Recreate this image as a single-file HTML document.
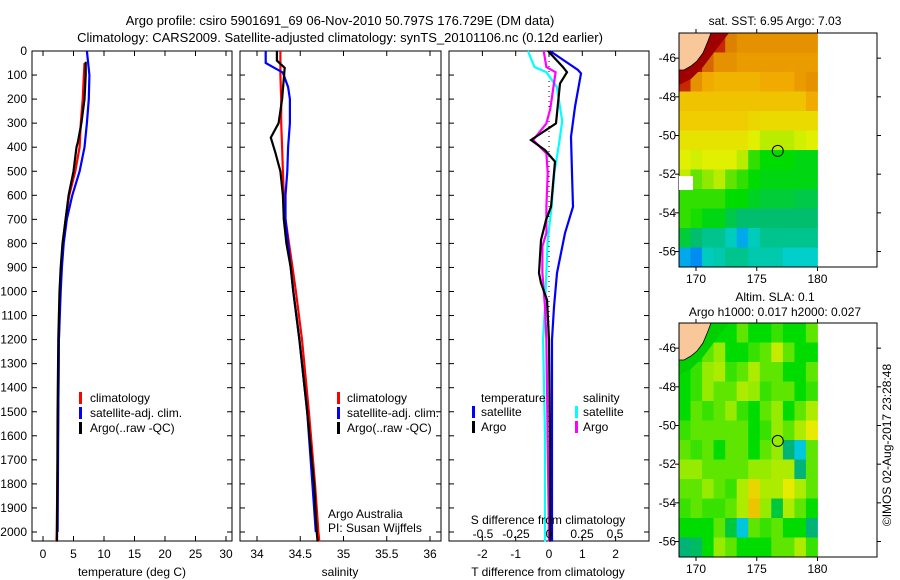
<!DOCTYPE html>
<html><head><meta charset="utf-8"><style>
html,body{margin:0;padding:0;background:#fff;}
svg{display:block;font-family:"Liberation Sans",sans-serif;font-size:12px;}
</style></head><body>
<svg id="fig" width="900" height="580" viewBox="0 0 900 580" xmlns="http://www.w3.org/2000/svg">
<text x="340" y="25" text-anchor="middle" font-size="13">Argo profile: csiro 5901691_69 06-Nov-2010 50.797S 176.729E (DM data)</text>
<text x="340" y="42" text-anchor="middle" font-size="13">Climatology: CARS2009. Satellite-adjusted climatology: synTS_20101106.nc (0.12d earlier)</text>
<g id="g"></g>
</svg>
<script>
// ---------- data ----------
const depthTicks=[0,100,200,300,400,500,600,700,800,900,1000,1100,1200,1300,1400,1500,1600,1700,1800,1900,2000];
const tempTicks=[0,5,10,15,20,25,30];
const salTicks=[34,34.5,35,35.5,36];
const salTickLabels=["34","34.5","35","35.5","36"];
const tdTicks=[-2,-1,0,1,2];
const sdTicks=[-0.5,-0.25,0,0.25,0.5];
const sdTickLabels=["-0.5","-0.25","0","0.25","0.5"];

const tClimDepth=[50,100,200,300,400,500,600,700,800,900,1000,1200,1500,1800,2000,2040];
const tClimVal=[6.8,6.7,6.5,6.2,6.0,5.3,4.3,3.7,3.3,3.0,2.8,2.6,2.5,2.35,2.25,2.2];
const tSatDepth=[0,100,200,300,400,500,600,700,800,900,1000,1200,1500,1800,2000];
const tSatVal=[7.2,7.6,7.5,7.2,6.8,6.0,4.8,3.9,3.4,3.1,2.9,2.6,2.5,2.45,2.4];
const tArgoDepth=[45,100,200,300,380,400,500,600,700,800,900,1000,1200,1500,1800,2040];
const tArgoVal=[7.0,7.0,6.8,6.3,5.7,5.5,5.0,4.2,3.7,3.2,2.9,2.7,2.5,2.4,2.35,2.3];

const sClimDepth=[0,100,200,300,400,500,600,700,800,900,1000,1200,1500,1800,2000,2040];
const sClimVal=[34.27,34.27,34.28,34.28,34.29,34.3,34.31,34.33,34.37,34.41,34.45,34.52,34.6,34.67,34.71,34.72];
const sSatDepth=[0,50,70,90,150,200,300,400,500,600,700,800,900,1000,1200,1500,1800,2000];
const sSatVal=[34.1,34.1,34.2,34.3,34.36,34.38,34.38,34.36,34.35,34.33,34.33,34.36,34.39,34.42,34.49,34.58,34.64,34.68];
const sArgoDepth=[0,40,70,200,300,360,420,500,600,700,800,900,1000,1200,1500,1800,2000,2040];
const sArgoVal=[34.23,34.23,34.32,34.29,34.25,34.16,34.21,34.27,34.3,34.31,34.34,34.39,34.42,34.49,34.58,34.66,34.69,34.7];

const tdSatDepth=[0,79,93,232,357,508,648,757,923,1064,1200,1600,2040];
const tdSatVal=[0.03,0.87,0.96,0.78,0.66,0.69,0.72,0.48,0.24,0.15,0.09,0.09,0.09];
const tdArgoDepth=[0,67,88,135,301,370,412,460,648,703,786,923,965,1035,1200,1600,2040];
const tdArgoVal=[-0.03,0.42,0.54,0.33,0.21,-0.54,-0.12,0.18,0.06,-0.09,-0.24,-0.3,-0.24,-0.06,0,0.03,0.03];
const sdSatDepth=[0,67,88,150,291,370,508,648,786,1064,1200,1600,2040];
const sdSatVal=[-0.16,-0.11,-0.02,0.06,0.1,0.08,0.04,0.02,-0.01,-0.03,-0.045,-0.03,-0.03];
const sdArgoDepth=[0,67,88,240,301,370,426,508,648,757,812,923,1064,1200,2040];
const sdArgoVal=[-0.04,-0.02,0.05,0.01,-0.02,-0.12,-0.02,-0.01,-0.02,-0.02,-0.05,-0.05,-0.03,-0.02,0];

const lonTicks=[170,175,180];
const latTicks=[-46,-48,-50,-52,-54,-56];
const latTickLabels=["-46","-48","-50","-52","-54","-56"];
const sstGrid=[
[12,12,12,11,10.3,10,10,10,10,10,10,10],
[12,11.5,10.5,10,10,9.8,9.8,9.8,9.8,9.8,9.8,9.8],
[11,10,9.5,9.3,9.3,9.3,9.3,9.5,9.5,9.5,9.8,10],
[9,9,9,9,9,9,9,9,9,9,9,9.5],
[8.8,8.8,8.8,8.8,8.8,8.8,8.6,8.5,8.5,8.5,8.5,8.5],
[8.3,8.3,8.3,8.3,8.3,8.3,8,7.5,7.5,7.5,7.8,8],
[8,7.8,8,8,8,7.5,6.8,6.6,6.6,6.6,6.5,6.5],
[7.6,7,7.2,7.5,7,6.8,6.6,6.5,6.5,6.5,6.5,6.5],
[6.8,6.8,6.8,6.8,6.6,6.6,6.4,6.3,6.3,6.3,6.2,6.2],
[6.8,6.7,6.5,6.5,6.2,6.0,6.0,6.0,6,6,6,6],
[6.3,6.0,5.8,5.8,5.5,5.0,5.5,5.8,5.8,5.8,5.8,5.8],
[5.0,4.8,5.5,5.6,5.8,5.8,5.6,5.6,5.6,5.4,5.4,5.4]];
const slaGrid=[
[0,0,0,0,0,0.05,0,0,0.03,0,0,0.05],
[0,0,0.05,0.08,0,0,0.03,0.05,0.12,0.05,0,0],
[0,0.03,0.08,0.1,0.03,0.05,0.1,0.05,0.05,0,0,0.05],
[0,0.03,0.08,0.05,0.05,0.1,0.08,0.03,0.05,0.05,0,0.03],
[0,0.05,0.03,0.05,0.08,0.03,0,0.05,0.08,0,0.05,0.1],
[0.03,0.05,0.05,0.05,0.05,0.05,0,0.03,0.08,0.05,0.1,0.15],
[0.05,0.03,0.05,0,0.05,0.05,0,0.05,0.08,-0.1,-0.2,0.05],
[0.08,0.08,0.05,0.05,0.05,0.05,0.08,0.08,0.1,0.1,-0.1,0.05],
[0.05,0.05,0.08,0.05,0.03,0.1,0.18,0.1,0.1,0.15,0.1,0.05],
[0.03,0.05,0.03,0.03,0.05,0.1,0.2,0.08,-0.05,0.1,0.05,0],
[0,0,0,0.05,-0.05,-0.2,0.05,0.03,0.05,0,0,-0.1],
[-0.1,-0.08,0,0.08,0.05,0,0,0,0.05,0.05,0.1,0.03]];
const argoLon=176.73, argoLat=-50.797;

// ---------- helpers ----------
const NS="http://www.w3.org/2000/svg";
const G=document.getElementById('g');
function mk(tag,attrs,parent){const e=document.createElementNS(NS,tag);for(const k in attrs)e.setAttribute(k,attrs[k]);(parent||G).appendChild(e);return e;}
const PT=51,PB=541;
const yD=d=>PT+d*0.2405;
const xT=t=>43+t*6.1;
const xS=s=>257+(s-34)*86.5;
const xTD=v=>549+v*33.3;
const xSD=v=>549+v*132;

function panel(x0,x1,name){
  const r=mk('rect',{x:x0,y:PT,width:x1-x0,height:PB-PT,fill:'none',stroke:'#000','stroke-width':1});
  
  
  depthTicks.forEach(d=>{
    const y=yD(d);
    const t1=mk('line',{x1:x0,x2:x0+5,y1:y,y2:y,stroke:'#000'});
    
    
    const t2=mk('line',{x1:x1-5,x2:x1,y1:y,y2:y,stroke:'#000'});
    
    
  });
}
function xticks(ticks,labels,fx,name){
  ticks.forEach((t,i)=>{
    const x=fx(t);
    const a=mk('line',{x1:x,x2:x,y1:PT,y2:PT+5,stroke:'#000'});
    
    
    const b=mk('line',{x1:x,x2:x,y1:PB-5,y2:PB,stroke:'#000'});
    
    
    const l=mk('text',{x:x,y:558,'text-anchor':'middle'});l.textContent=labels[i];
    
    
  });
}
function line(depths,vals,fx,color,name){
  const pts=depths.map((d,i)=>fx(vals[i]).toFixed(1)+','+yD(d).toFixed(1)).join(' ');
  const p=mk('polyline',{points:pts,fill:'none',stroke:color,'stroke-width':2.2,'stroke-linejoin':'miter'});
  
  
}
function txt(x,y,s,name,extra){
  const t=mk('text',Object.assign({x:x,y:y},extra||{}));t.textContent=s;
  
  
  return t;
}
function legendBar(x,y,color,name){
  const b=mk('rect',{x:x,y:y-10,width:3,height:12,fill:color});
  
  
}

// ---------- panel 1 ----------
panel(32,232,'temperature-panel');
depthTicks.forEach(d=>txt(27,yD(d)+4,String(d),'depth-tick-label',{'text-anchor':'end'}));
xticks(tempTicks,tempTicks.map(String),xT,'temperature');
txt(132,576,'temperature (deg C)','temperature-axis-title',{'text-anchor':'middle'});
line(tClimDepth,tClimVal,xT,'#f00','temperature-climatology-line');
line(tSatDepth,tSatVal,xT,'#00f','temperature-satellite-line');
line(tArgoDepth,tArgoVal,xT,'#000','temperature-argo-line');
[['climatology','#f00'],['satellite-adj. clim.','#00f'],['Argo(..raw -QC)','#000']].forEach((e,i)=>{
  legendBar(79,402+i*15,e[1],'temperature-legend-swatch');
  txt(90,402+i*15,e[0],'temperature-legend-entry');
});

// ---------- panel 2 ----------
panel(240,441,'salinity-panel');
xticks(salTicks,salTickLabels,xS,'salinity');
txt(340,576,'salinity','salinity-axis-title',{'text-anchor':'middle'});
line(sClimDepth,sClimVal,xS,'#f00','salinity-climatology-line');
line(sSatDepth,sSatVal,xS,'#00f','salinity-satellite-line');
line(sArgoDepth,sArgoVal,xS,'#000','salinity-argo-line');
[['climatology','#f00'],['satellite-adj. clim.','#00f'],['Argo(..raw -QC)','#000']].forEach((e,i)=>{
  legendBar(337,402+i*15,e[1],'salinity-legend-swatch');
  txt(347,402+i*15,e[0],'salinity-legend-entry');
});
txt(328,518,'Argo Australia','credit-argo-australia');
txt(328,532,'PI: Susan Wijffels','credit-pi');

// ---------- panel 3 ----------
panel(449,649,'difference-panel');
xticks(tdTicks,tdTicks.map(String),xTD,'t-difference');
const zl=mk('line',{x1:549,x2:549,y1:yD(0),y2:PB,stroke:'#000','stroke-dasharray':'1,4'});


line(tdSatDepth,tdSatVal,xTD,'#00f','t-diff-satellite-line');
line(sdSatDepth,sdSatVal,xSD,'#0ff','s-diff-satellite-line');
line(sdArgoDepth,sdArgoVal,xSD,'#f0f','s-diff-argo-line');
line(tdArgoDepth,tdArgoVal,xTD,'#000','t-diff-argo-line');
txt(481,402,'temperature','legend-temperature-heading');
legendBar(472,416,'#00f','t-legend-swatch');txt(481,416,'satellite','t-legend-satellite');
legendBar(472,431,'#000','t-legend-swatch');txt(481,431,'Argo','t-legend-argo');
txt(583,402,'salinity','legend-salinity-heading');
legendBar(575,416,'#0ff','s-legend-swatch');txt(583,416,'satellite','s-legend-satellite');
legendBar(575,431,'#f0f','s-legend-swatch');txt(583,431,'Argo','s-legend-argo');
txt(548,524,'S difference from climatology','s-difference-axis-title',{'text-anchor':'middle'});
sdTicks.forEach((t,i)=>txt(xSD(t),538,sdTickLabels[i],'s-difference-tick-label',{'text-anchor':'middle'}));
txt(548,576,'T difference from climatology','t-difference-axis-title',{'text-anchor':'middle'});

// ---------- maps ----------
const MX0=679,MX1=877,LON0=168.6,LON1=184.9;
const mxLon=l=>MX0+(l-LON0)*(MX1-MX0)/(LON1-LON0);
function lerpMap(stops,v){
  for(let i=1;i<stops.length;i++){if(v<=stops[i][0]){const a=stops[i-1],b=stops[i],f=(v-a[0])/(b[0]-a[0]);
    return 'rgb('+[0,1,2].map(k=>Math.round(a[1][k]+(b[1][k]-a[1][k])*f)).join(',')+')';}}
  return 'rgb('+stops[stops.length-1][1].join(',')+')';
}
const sstStops=[[4.5,[0,100,255]],[5.3,[0,210,220]],[6.0,[0,190,110]],[6.6,[0,220,0]],[7.3,[170,235,0]],[8.0,[225,240,0]],[8.8,[240,205,0]],[9.6,[240,165,0]],[10.3,[220,130,0]],[11,[200,40,0]],[12,[150,0,0]]];
const slaStops=[[-0.3,[0,100,255]],[-0.2,[0,200,220]],[-0.1,[0,180,120]],[0,[0,220,0]],[0.08,[150,235,0]],[0.15,[230,235,0]],[0.25,[240,160,0]]];
function colorFor(stops,v){
  if(v<=stops[0][0])return 'rgb('+stops[0][1].join(',')+')';
  return lerpMap(stops,v);
}
function drawMap(top,bot,grid,stops,name,coastFill){
  const latTop=-44.7,latBot=-56.8;
  const myLat=l=>top+(latTop-l)*(bot-top)/(latTop-latBot);
  const cw=(180-LON0)/grid[0].length, ch=(latTop-latBot)/grid.length;
  grid.forEach((row,r)=>row.forEach((v,c)=>{
    const x=mxLon(LON0+c*cw),y=myLat(latTop-r*ch);
    const cell=mk('rect',{x:x.toFixed(1),y:y.toFixed(1),width:(mxLon(LON0+(c+1)*cw)-x+0.5).toFixed(1),height:(myLat(latTop-(r+1)*ch)-y+0.5).toFixed(1),fill:colorFor(stops,v)});
    
    
  }));
  const band=mk('polygon',{points:`${MX0},${top} ${MX0+50},${top} ${MX0+36},${top+18} ${MX0+24},${top+34} ${MX0+12},${top+46} ${MX0},${top+52}`,fill:coastFill});
  
  
  const land=mk('polygon',{points:`${MX0},${top} ${MX0+32},${top} ${MX0+29},${top+8} ${MX0+24},${top+20} ${MX0+18},${top+28} ${MX0+12},${top+33} ${MX0+5},${top+37} ${MX0},${top+37}`,fill:'#f9c89a',stroke:'#000','stroke-width':0.8});
  
  
  const frame=mk('rect',{x:MX0,y:top,width:MX1-MX0,height:bot-top,fill:'none',stroke:'#000'});
  
  
  latTicks.forEach((l,i)=>{
    const y=myLat(l);
    const a=mk('line',{x1:MX0-4,x2:MX0,y1:y,y2:y,stroke:'#000'});
    
    
    const b=mk('line',{x1:MX1,x2:MX1+4,y1:y,y2:y,stroke:'#000'});
    
    
    txt(MX0-3,y+4,latTickLabels[i],name+'-lat-label',{'text-anchor':'end'});
  });
  lonTicks.forEach(l=>{
    const x=mxLon(l);
    const a=mk('line',{x1:x,x2:x,y1:top-4,y2:top,stroke:'#000'});
    
    
    const b=mk('line',{x1:x,x2:x,y1:bot,y2:bot+4,stroke:'#000'});
    
    
    txt(x,bot+16,String(l),name+'-lon-label',{'text-anchor':'middle'});
  });
  const c=mk('circle',{cx:mxLon(argoLon),cy:myLat(argoLat),r:5.5,fill:'none',stroke:'#000'});
  
  
}
drawMap(33,267,sstGrid,sstStops,'sst-map','#a00000');
const wb=mk('rect',{x:679,y:176,width:14,height:14,fill:'#fff'});


txt(775,25,'sat. SST: 6.95 Argo: 7.03','sst-map-title',{'text-anchor':'middle'});
drawMap(323,557,slaGrid,slaStops,'sla-map','#00d000');
txt(775,301,'Altim. SLA: 0.1','sla-map-title',{'text-anchor':'middle'});
txt(775,316,'Argo h1000: 0.017 h2000: 0.027','sla-map-subtitle',{'text-anchor':'middle'});
txt(0,0,'©IMOS 02-Aug-2017 23:28:48','timestamp',{transform:'translate(891,445) rotate(-90)','text-anchor':'middle'});
</script>
</body></html>
